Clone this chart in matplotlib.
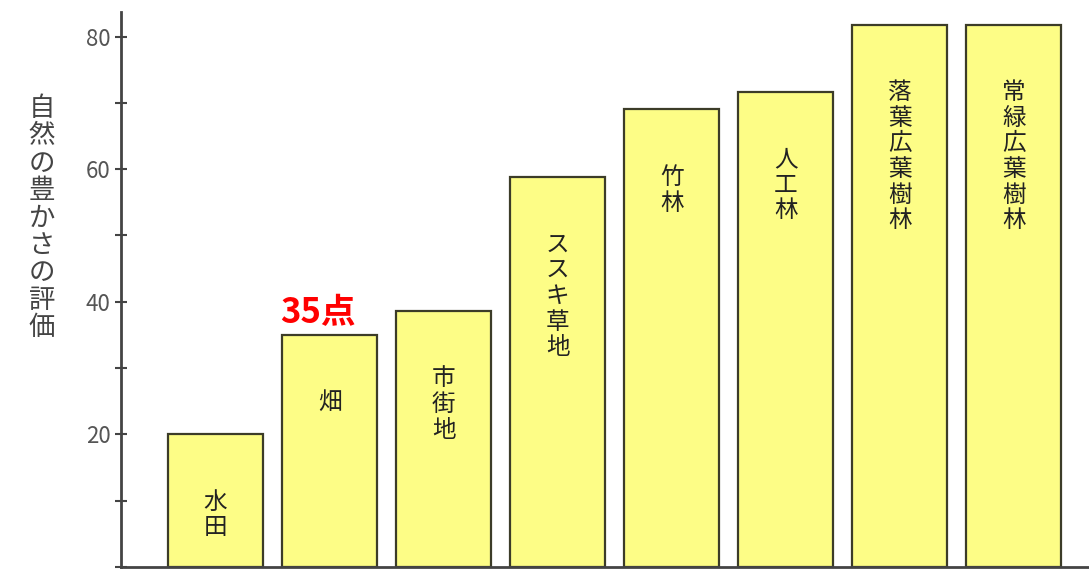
import matplotlib
matplotlib.use("Agg")
import matplotlib.pyplot as plt
from matplotlib.ticker import MultipleLocator

plt.rcParams['font.family'] = ['Noto Sans CJK JP', 'DejaVu Sans']

# 土地利用ごとの自然の豊かさの評価
categories = ['水田', '畑', '市街地', 'ススキ草地', '竹林', '人工林', '落葉広葉樹林', '常緑広葉樹林']
scores = [20, 35, 38.6, 58.8, 69, 71.7, 81.8, 81.8]
ylabel_text = '自然の豊かさの評価'
highlight_idx = 1
highlight_text = '35点'

fig = plt.figure(figsize=(10.89, 5.69), dpi=100)
ax = fig.add_axes([121 / 1089, 2 / 569, 968 / 1089, 555 / 569])

x = range(len(categories))
ax.bar(x, scores, width=0.83, color='#fdfd86', edgecolor='#3c3c28', linewidth=1.6)

# 棒の中に縦書きラベル
for i, (cat, v) in enumerate(zip(categories, scores)):
    ax.text(i, v - 8.5, '\n'.join(cat), ha='center', va='top',
            fontsize=17, color='#222222', linespacing=1.15)

ax.text(highlight_idx - 0.1, scores[highlight_idx] + 0.8, highlight_text,
        ha='center', va='bottom', fontsize=25, fontweight='bold', color='#ff0000')

ax.set_xlim(-0.83, 7.66)
ax.set_ylim(0, 83.7)
ax.yaxis.set_major_locator(MultipleLocator(20))
ax.yaxis.set_minor_locator(MultipleLocator(10))
ax.set_yticks([20, 40, 60, 80])
ax.tick_params(axis='y', which='both', direction='inout', length=9, width=1.5,
               color='#444444', labelsize=16, labelcolor='#555555', pad=3)
ax.set_xticks([])
for s in ['top', 'right']:
    ax.spines[s].set_visible(False)
for s in ['left', 'bottom']:
    ax.spines[s].set_color('#444444')
    ax.spines[s].set_linewidth(2)

fig.text(42 / 1089, 1 - 218 / 569, '\n'.join(ylabel_text), ha='center', va='center',
         fontsize=19, color='#444444', linespacing=1.02)

fig.savefig('out.png', dpi=100)
